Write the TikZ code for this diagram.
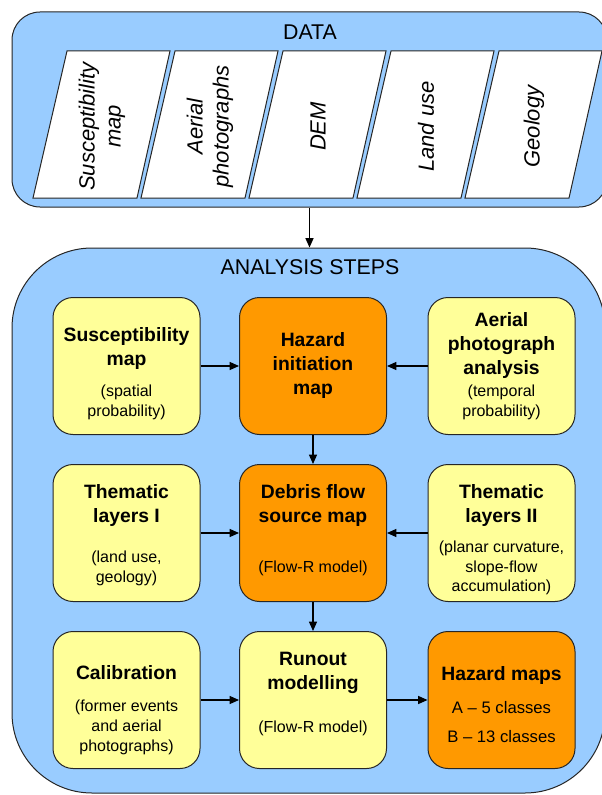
\documentclass[tikz,border=0pt]{standalone}
\usepackage{fontspec}
\setmainfont{Liberation Sans}
\usetikzlibrary{arrows.meta}

\definecolor{panelblue}{RGB}{153,204,255}
\definecolor{stepyellow}{RGB}{255,255,153}
\definecolor{steporange}{RGB}{255,153,0}

\begin{document}
\begin{tikzpicture}[x=0.75pt,y=0.75pt,yscale=-1,xscale=1,
  panel/.style={draw=black!85, fill=panelblue, line width=0.75pt, inner sep=0pt},
  datasheet/.style={draw=black!85, fill=white, line width=0.75pt},
  sheetlabel/.style={rotate=90, align=center, inner sep=0.75pt, font=\fontsize{16.5}{19.5}\selectfont\itshape},
  stepbox/.style={draw=black!85, line width=0.75pt, rounded corners=15pt, minimum width=110.25pt, minimum height=102.75pt, inner sep=0pt},
  inputbox/.style={stepbox, fill=stepyellow},
  resultbox/.style={stepbox, fill=steporange},
  paneltitle/.style={inner sep=0.75pt, font=\fontsize{16}{19}\selectfont},
  boxtitle/.style={align=center, inner sep=0.75pt, font=\fontsize{14.5}{18}\selectfont\bfseries},
  boxnote/.style={align=center, inner sep=0.75pt, font=\fontsize{12}{14.8}\selectfont},
  flow/.style={line width=0.9pt, -{Triangle[length=7pt,width=6pt]}}
]
\useasboundingbox (0,0) rectangle (602,795);

%Shape: Rounded Rect [data panel]
\node[panel, rounded corners=21pt, minimum width=446.25pt, minimum height=146.25pt] (data) at (309.5,109.5) {};
%Shape: Rounded Rect [analysis panel]
\node[panel, rounded corners=60pt, minimum width=444.75pt, minimum height=408.75pt] (analysis) at (308.5,520.5) {};

% Text Node
\node[paneltitle] (datatitle) at (310,32) {DATA};
% Text Node
\node[paneltitle] (analysistitle) at (310,267) {ANALYSIS STEPS};

%Shape: Parallelogram (data sheets)
\foreach \lbl [count=\i from 0] in {{Susceptibility\\map},{Aerial\\photographs},DEM,Land use,Geology}{
  \draw[datasheet] (67+108*\i,51) -- (170+108*\i,51) -- (137+108*\i,198) -- (33+108*\i,198) -- cycle;
  \node[sheetlabel] (sheet\i) at (102+108*\i,126.5) {\lbl};
}

%Shape: Rounded Rect [row 1]
\node[inputbox] (suscmap) at (126.5,366) {};
\node[resultbox] (hinit) at (313,366) {};
\node[inputbox] (aerial) at (501.5,366) {};
%Shape: Rounded Rect [row 2]
\node[inputbox] (thema) at (126.5,533) {};
\node[resultbox] (source) at (313,533) {};
\node[inputbox] (themb) at (501.5,533) {};
%Shape: Rounded Rect [row 3]
\node[inputbox] (calib) at (126.5,700) {};
\node[inputbox] (runout) at (313,700) {};
\node[resultbox] (hmaps) at (501.5,700) {};

% Text Node
\node[boxtitle] (suscmap-t) at (126.5,348) {Susceptibility\\map};
\node[boxnote] (suscmap-n) at (126.5,402.5) {(spatial\\probability)};
% Text Node
\node[boxtitle] (hinit-t) at (313,365.5) {Hazard\\initiation\\map};
% Text Node
\node[boxtitle] (aerial-t) at (501.5,345) {Aerial\\photograph\\analysis};
\node[boxnote] (aerial-n) at (501.5,402.5) {(temporal\\probability)};
% Text Node
\node[boxtitle] (thema-t) at (126.5,505) {Thematic\\layers I};
\node[boxnote] (thema-n) at (126.5,568) {(land use,\\geology)};
% Text Node
\node[boxtitle] (source-t) at (313,505) {Debris flow\\source map};
\node[boxnote] (source-n) at (313,568) {(Flow-R model)};
% Text Node
\node[boxtitle] (themb-t) at (501.5,505) {Thematic\\layers II};
\node[boxnote] (themb-n) at (501.5,568) {(planar curvature,\\slope-flow\\accumulation)};
% Text Node
\node[boxtitle] (calib-t) at (126.5,673) {Calibration};
\node[boxnote] (calib-n) at (126.5,727.5) {(former events\\and aerial\\photographs)};
% Text Node
\node[boxtitle] (runout-t) at (313,672.5) {Runout\\modelling};
\node[boxnote] (runout-n) at (313,728) {(Flow-R model)};
% Text Node
\node[boxtitle] (hmaps-t) at (501.5,675) {Hazard maps};
\node[boxnote, font=\fontsize{12.5}{21.75}\selectfont] (hmaps-n) at (501.5,722.5) {A – 5 classes\\B – 13 classes};

%Straight Lines
\draw[flow] (data.south) -- (data.south |- analysis.north);
\draw[flow] (suscmap) -- (hinit);
\draw[flow] (aerial) -- (hinit);
\draw[flow] (hinit) -- (source);
\draw[flow] (thema) -- (source);
\draw[flow] (themb) -- (source);
\draw[flow] (source) -- (runout);
\draw[flow] (calib) -- (runout);
\draw[flow] (runout) -- (hmaps);

\end{tikzpicture}
\end{document}
